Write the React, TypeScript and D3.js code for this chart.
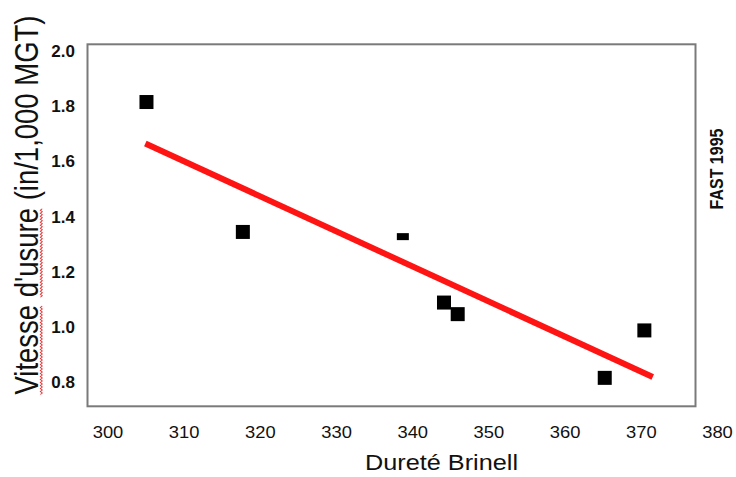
import React, { useLayoutEffect, useRef, useState } from "react";
import * as d3 from "d3";

const hardness = [305.05, 317.7, 338.7, 344.1, 345.9, 365.2, 370.4];
const wearRate = [1.815, 1.344, 1.327, 1.088, 1.046, 0.815, 0.987];
const trendX = [304.9, 371.5];
const trendY = [1.665, 0.818];
const xTicks = [300, 310, 320, 330, 340, 350, 360, 370, 380];
const yTicks = [0.8, 1.0, 1.2, 1.4, 1.6, 1.8, 2.0];
const smallMarkerIndex = 2;

const W = 736;
const H = 477;
const FONT = "'Liberation Sans', Arial, Helvetica, sans-serif";
const TITLE = "Vitesse d'usure (in/1,000 MGT)";

export default function App() {
  const x = d3.scaleLinear().domain([300, 380]).range([108, 717.5]);
  const y = d3.scaleLinear().domain([0.8, 2.0]).range([382, 51]);
  const line = d3
    .line<number>()
    .x((d) => x(d))
    .y((_, i) => y(trendY[i]));

  const titleRef = useRef<SVGTextElement>(null);
  const [under, setUnder] = useState<{ a: number; b: number; c: number; d: number } | null>(null);

  useLayoutEffect(() => {
    const t = titleRef.current;
    if (!t) return;
    try {
      const total = t.getComputedTextLength();
      const l1 = t.getSubStringLength(0, 7);
      const s2 = t.getSubStringLength(0, 8);
      const l2 = t.getSubStringLength(8, 7);
      setUnder({ a: -total / 2, b: -total / 2 + l1, c: -total / 2 + s2, d: -total / 2 + s2 + l2 });
    } catch (e) {
      /* ignore */
    }
  }, []);

  const wavy = (from: number, to: number) => {
    const pts: [number, number][] = [];
    let k = 0;
    for (let p = from; p <= to; p += 1.5) {
      pts.push([p, 2 + (k % 2 === 0 ? 0 : 1.6)]);
      k++;
    }
    return d3.line()(pts) || "";
  };

  const titleCx = 38;
  const titleCy = 205;

  return (
    <svg
      width={W}
      height={H}
      style={{ position: "absolute", left: 0, top: 0, background: "#fff" }}
      fontFamily={FONT}
    >
      <rect x={0} y={0} width={W} height={H} fill="#fff" />
      <rect x={87.5} y={44.3} width={608} height={362} fill="#fff" stroke="#7a7a7a" strokeWidth={2} />

      {/* trend line */}
      <path d={line(trendX) || ""} fill="none" stroke="#ff1414" strokeWidth={6} />

      {/* markers */}
      {hardness.map((h, i) => {
        const w = i === smallMarkerIndex ? 12 : 14;
        const hh = i === smallMarkerIndex ? 7 : 14;
        return <rect key={i} x={x(h) - w / 2} y={y(wearRate[i]) - hh / 2} width={w} height={hh} fill="#000" />;
      })}

      {/* y tick labels */}
      {yTicks.map((t) => (
        <text key={t} x={75} y={y(t)} dy="0.36em" textAnchor="end" fontSize={17} fontWeight="bold" fill="#111">
          {t.toFixed(1)}
        </text>
      ))}

      {/* x tick labels */}
      {xTicks.map((t) => (
        <text key={t} x={x(t)} y={438} textAnchor="middle" fontSize={17} fill="#111" transform={`translate(${x(t)},0) scale(1.08,1) translate(${-x(t)},0)`}>
          {t}
        </text>
      ))}

      {/* x title */}
      <text x={441.5} y={470} textAnchor="middle" fontSize={22} fill="#111" textLength={153} lengthAdjust="spacingAndGlyphs">
        Dureté Brinell
      </text>

      {/* y title */}
      <g transform={`translate(${titleCx},${titleCy}) scale(1.18,1) rotate(-90)`}>
        <text ref={titleRef} x={0} y={0} textAnchor="middle" fontSize={27.5} fill="#111">
          {TITLE}
        </text>
        {under && (
          <g fill="none" stroke="#e83030" strokeWidth={0.9}>
            <path d={wavy(under.a, under.b)} />
            <path d={wavy(under.c, under.d)} />
          </g>
        )}
      </g>

      {/* FAST 1995 */}
      <text
        transform={`translate(723,169) scale(1.12,1) rotate(-90)`}
        textAnchor="middle"
        fontSize={16}
        fontWeight="bold"
        fill="#111"
      >
        FAST 1995
      </text>
    </svg>
  );
}
